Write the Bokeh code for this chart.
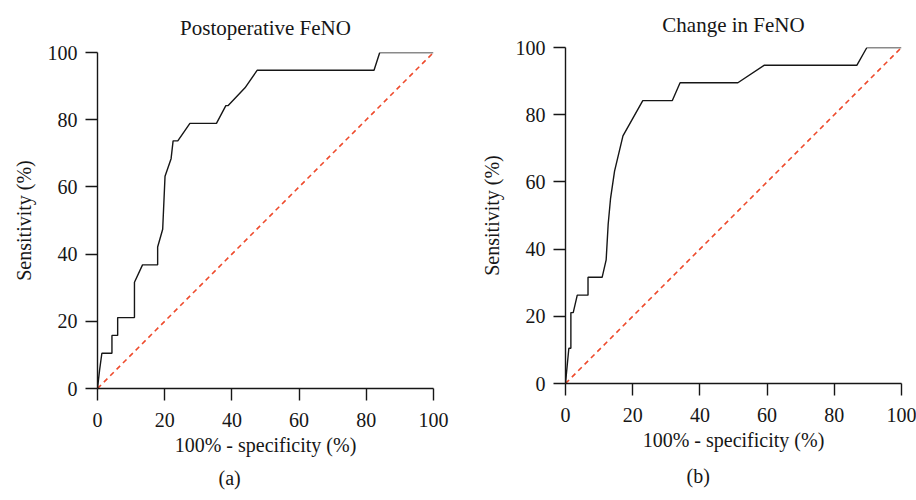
from bokeh.plotting import figure
from bokeh.layouts import row, column
from bokeh.models import Range1d, FixedTicker, Title
from bokeh.embed import file_html
from bokeh.resources import INLINE

# Panel (a): Postoperative FeNO
fpr_a = [0, 0.6, 1.3, 4.3, 4.3, 6.0, 6.0, 11.0, 11.0, 13.4, 17.9, 17.9, 19.4, 20.1,
         21.9, 22.5, 23.9, 27.5, 35.4, 38.2, 38.9, 43.9, 47.5, 82.3, 84.0, 100]
tpr_a = [0, 5.3, 10.5, 10.5, 15.8, 15.8, 21.1, 21.1, 31.6, 36.8, 36.8, 42.1, 47.4, 63.2,
         68.4, 73.7, 73.7, 78.9, 78.9, 84.2, 84.2, 89.5, 94.7, 94.7, 100, 100]

# Panel (b): Change in FeNO
fpr_b = [0, 0.5, 1.0, 1.6, 1.6, 2.3, 3.5, 6.7, 6.7, 10.9, 12.1, 12.7, 13.4, 14.6,
         17.1, 23.0, 31.8, 34.1, 51.3, 59.1, 86.7, 89.7, 100]
tpr_b = [0, 5.3, 10.5, 10.5, 21.1, 21.1, 26.3, 26.3, 31.6, 31.6, 36.8, 47.4, 55.0, 63.2,
         73.7, 84.2, 84.2, 89.5, 89.5, 94.7, 94.7, 100, 100]

ref_line = [0, 100]
ticks = [0, 20, 40, 60, 80, 100]

titles = ["Postoperative FeNO", "Change in FeNO"]
tags = ["(a)", "(b)"]
xlabel = "100% - specificity (%)"
ylabel = "Sensitivity (%)"

FONT = "Liberation Serif"
INK = "#161616"


def make_panel(fx, ty, title, tag, width, left, right, top, bottom, title_gap, tag_gap):
    p = figure(width=width, height=500, output_backend="svg", toolbar_location=None,
               x_range=Range1d(0, 100), y_range=Range1d(0, 100),
               min_border_left=left, min_border_right=right,
               min_border_top=top, min_border_bottom=bottom)
    p.title.text = title
    p.title.text_font = FONT
    p.title.text_font_size = "21px"
    p.title.text_font_style = "normal"
    p.title.align = "center"
    p.title.text_color = INK
    p.title.standoff = title_gap
    p.outline_line_color = None
    p.grid.visible = False
    p.background_fill_color = "white"
    p.border_fill_color = "white"

    p.line(ref_line, ref_line, line_color="#ee4a2c", line_width=1.6, line_dash="5 4")
    p.line(fx, ty, line_color=INK, line_width=1.4)

    for ax in (p.xaxis[0], p.yaxis[0]):
        ax.ticker = FixedTicker(ticks=ticks)
        ax.major_tick_out = 12
        ax.major_tick_in = 0
        ax.minor_tick_line_color = None
        ax.axis_line_color = INK
        ax.axis_line_width = 1.4
        ax.major_tick_line_color = INK
        ax.major_tick_line_width = 1.4
        ax.major_label_text_font = FONT
        ax.major_label_text_font_size = "20px"
        ax.major_label_text_color = INK
        ax.axis_label_text_font = FONT
        ax.axis_label_text_font_size = "20px"
        ax.axis_label_text_font_style = "normal"
        ax.axis_label_text_color = INK
    p.xaxis[0].axis_label = xlabel
    p.yaxis[0].axis_label = ylabel
    p.xaxis[0].major_label_standoff = 12
    p.yaxis[0].major_label_standoff = 8
    p.xaxis[0].axis_label_standoff = 4
    p.yaxis[0].axis_label_standoff = 10

    t = Title(text=tag, align="left", offset=121, text_font=FONT, text_font_size="20px",
              text_font_style="normal", text_color=INK, standoff=tag_gap)
    p.add_layout(t, "below")
    return p


pa = make_panel(fpr_a, tpr_a, titles[0], tags[0], 450, 97, 17, 52, 112, 26, 13)
pb = make_panel(fpr_b, tpr_b, titles[1], tags[1], 466, 115, 15, 47, 117, 21, 18)

layout = row(column(pa), column(pb))
open("out.html", "w").write(file_html(layout, INLINE))
